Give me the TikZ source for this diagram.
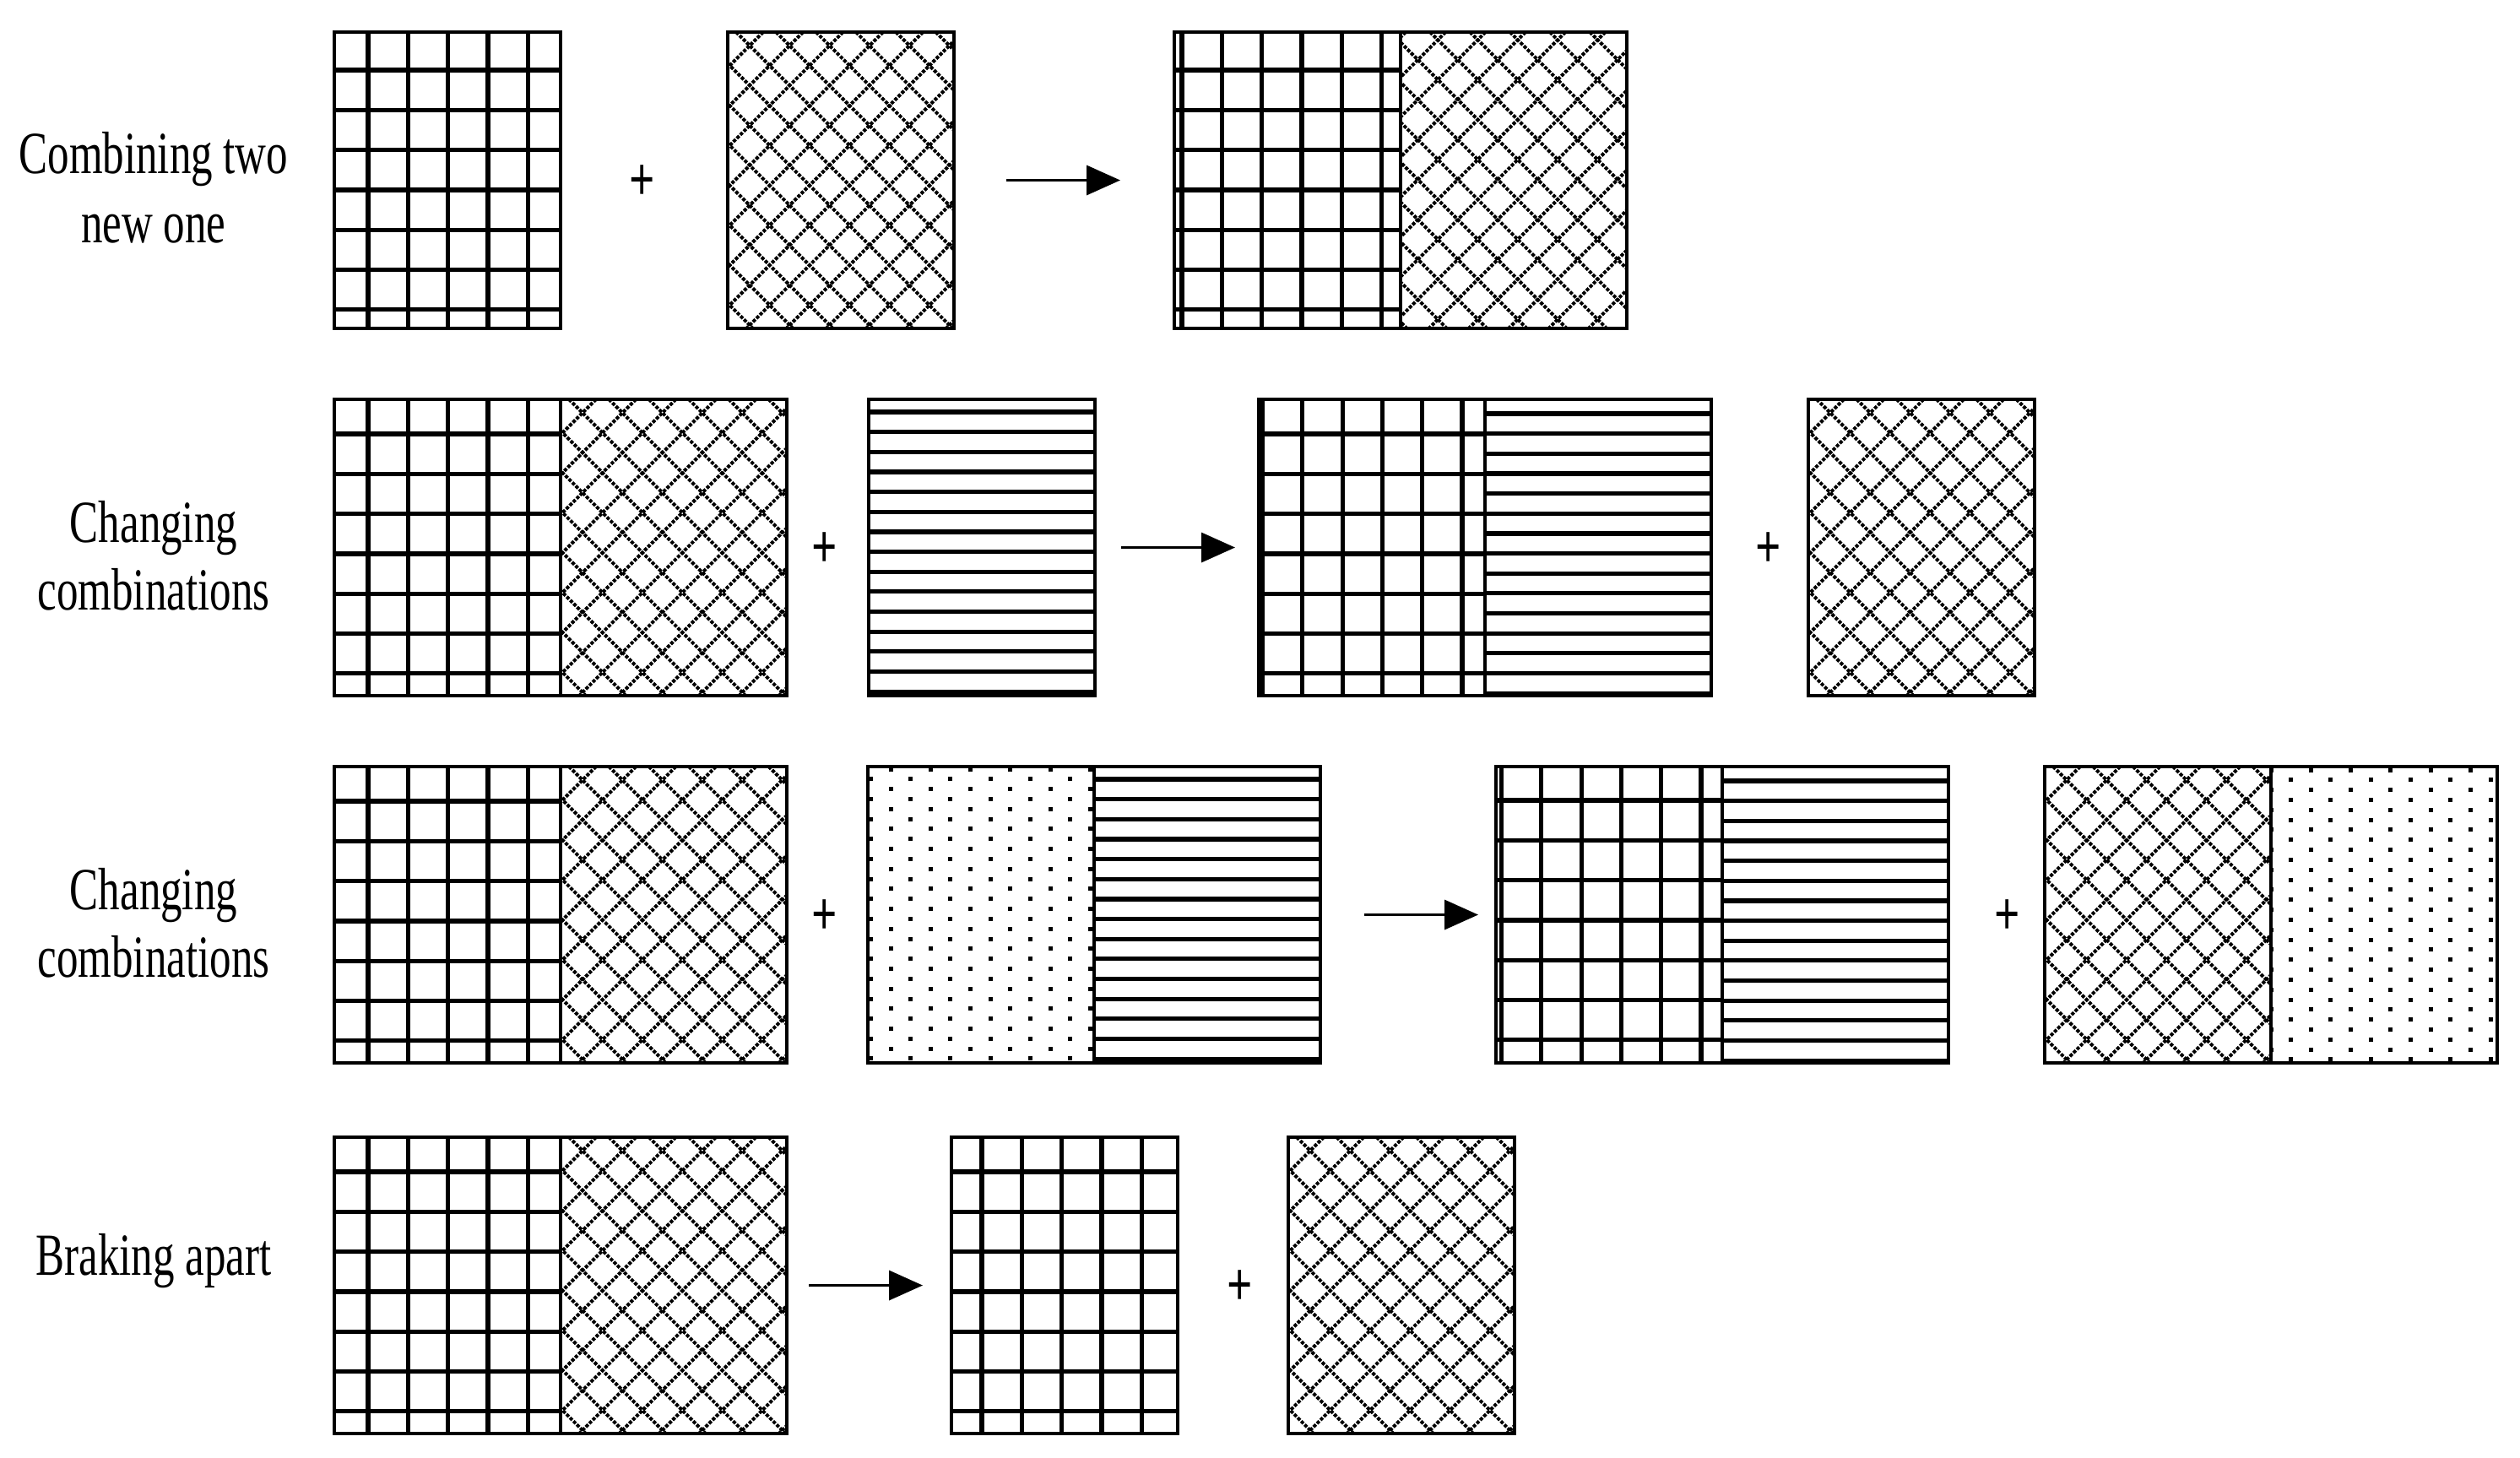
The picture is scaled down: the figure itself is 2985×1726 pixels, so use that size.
\documentclass[tikz,border=0pt]{standalone}
\usepackage{fontspec}
\usetikzlibrary{arrows.meta}
\newfontfamily\labfont[FakeStretch=0.72]{Liberation Serif}
\tikzset{
  hatchln/.style={line width=1.3pt,black},
  dialn/.style={line width=1pt,black,dash pattern=on 1pt off 0.45pt},
  boxnode/.style={draw,line width=1.1pt,inner sep=0pt,outer sep=0pt,anchor=north west,minimum height=87.75pt},
  singlebox/.style={boxnode,minimum width=67pt},
  doublebox/.style={boxnode,minimum width=134pt},
  divln/.style={line width=1.1pt},
  arr/.style={line width=0.875pt,-{Triangle[length=10pt,width=8.75pt]}},
  lab/.style={font=\labfont\fontsize{17.7}{20.5}\selectfont,anchor=base,inner sep=0pt},
  plus/.style={font=\labfont\bfseries\fontsize{18.5}{20.5}\selectfont,anchor=center}
}
% #1 L, #2 T, #3 W, #4 H, #5 pu, #6 pv
\newcommand\patgrid[6]{%
\begin{scope}
\clip (#1,#2) rectangle ++(#3,#4);
\foreach \k in {0,...,9}{
 \draw[hatchln] ({#1+#5+(\k-1)*47.3},#2) -- ++(0,#4);
 \draw[hatchln] (#1,{#2+#6+(\k-1)*47.3}) -- ++(#3,0);
}
\end{scope}}
\newcommand\patdia[6]{%
\begin{scope}
\clip (#1,#2) rectangle ++(#3,#4);
\foreach \k in {0,...,16}{
 \draw[dialn] ({#1+#5+(\k-9)*47.3},#2) -- ++(#4,#4);
 \draw[dialn] ({#1+#6+(\k-1)*47.3},#2) -- ++(-#4,#4);
}
\end{scope}}
\newcommand\patdots[6]{%
\begin{scope}
\clip (#1,#2) rectangle ++(#3,#4);
\foreach \i in {0,...,7}{\foreach \j in {0,...,15}{
 \fill ({#1+#5+(\i-1)*47.3-2.5},{#2+#6+\j*23.65-2.5}) rectangle ++(5,5);
 \fill ({#1+#5+(\i-1)*47.3+23.65-2.5},{#2+#6+\j*23.65+11.83-2.5}) rectangle ++(5,5);
}}
\end{scope}}
\newcommand\pathl[5]{%
\begin{scope}
\clip (#1,#2) rectangle ++(#3,#4);
\foreach \j in {0,...,15}{
 \draw[hatchln] (#1,{#2+#5+\j*23.65}) -- ++(#3,0);
}
\end{scope}}
\begin{document}
\begin{tikzpicture}[x=0.25pt,y=-0.25pt]
\useasboundingbox (0,0) rectangle (2985,1726);
\fill[white] (0,0) rectangle (2985,1726);

% ---------- labels ----------
\node[lab] (l1a) at (182,205) {Combining two};
\node[lab] (l1b) at (182,287) {new one};
\node[lab] (l2a) at (182,642) {Changing};
\node[lab] (l2b) at (182,722) {combinations};
\node[lab] (l3a) at (182,1077) {Changing};
\node[lab] (l3b) at (182,1157) {combinations};
\node[lab] (l4a) at (182,1510) {Braking apart};

% ---------- row 1 ----------
\patgrid{396}{38}{268}{351}{40}{45}
\node[singlebox] (b1a) at (396,38) {};
\node[plus] (p1) at (761,216.5) {+};
\patdia{862}{38}{268}{351}{10}{42}
\node[singlebox] (b1b) at (862,38) {};
\coordinate (a1s) at (1192,213.5);
\coordinate (a1e) at (1327,213.5);
\draw[arr] (a1s) -- (a1e);
\patgrid{1391}{38}{268}{351}{9}{45}
\patdia{1659}{38}{268}{351}{35}{6}
\node[doublebox] (b1c) at (1391,38) {};
\draw[divln] (b1c.north) -- (b1c.south);

% ---------- row 2 ----------
\patgrid{396}{473}{268}{351}{40}{41}
\patdia{664}{473}{268}{351}{10}{42}
\node[doublebox] (b2a) at (396,473) {};
\draw[divln] (b2a.north) -- (b2a.south);
\node[plus] (p2a) at (977,651.5) {+};
\pathl{1029}{473}{268}{351}{15}
\node[singlebox] (b2b) at (1029,473) {};
\coordinate (a2s) at (1328,648.5);
\coordinate (a2e) at (1463,648.5);
\draw[arr] (a2s) -- (a2e);
\patgrid{1491}{473}{268}{351}{4.5}{41}
\pathl{1759}{473}{268}{351}{17}
\node[doublebox] (b2c) at (1491,473) {};
\draw[divln] (b2c.north) -- (b2c.south);
\node[plus] (p2b) at (2095,651.5) {+};
\patdia{2142}{473}{268}{351}{10}{42}
\node[singlebox] (b2d) at (2142,473) {};

% ---------- row 3 ----------
\patgrid{396}{908}{268}{351}{40}{41}
\patdia{664}{908}{268}{351}{10}{42}
\node[doublebox] (b3a) at (396,908) {};
\draw[divln] (b3a.north) -- (b3a.south);
\node[plus] (p3a) at (977,1086.5) {+};
\patdots{1028}{908}{268}{351}{27}{3}
\pathl{1296}{908}{268}{351}{15}
\node[doublebox] (b3b) at (1028,908) {};
\draw[divln] (b3b.north) -- (b3b.south);
\coordinate (a3s) at (1616,1083.5);
\coordinate (a3e) at (1751,1083.5);
\draw[arr] (a3s) -- (a3e);
\patgrid{1772}{908}{268}{351}{6.5}{40}
\pathl{2040}{908}{268}{351}{17}
\node[doublebox] (b3c) at (1772,908) {};
\draw[divln] (b3c.north) -- (b3c.south);
\node[plus] (p3b) at (2378,1086.5) {+};
\patdia{2422}{908}{268}{351}{10}{42}
\patdots{2690}{908}{268}{351}{0}{4}
\node[doublebox] (b3d) at (2422,908) {};
\draw[divln] (b3d.north) -- (b3d.south);

% ---------- row 4 ----------
\patgrid{396}{1347}{268}{351}{40}{41}
\patdia{664}{1347}{268}{351}{10}{42}
\node[doublebox] (b4a) at (396,1347) {};
\draw[divln] (b4a.north) -- (b4a.south);
\coordinate (a4s) at (958,1522.5);
\coordinate (a4e) at (1093,1522.5);
\draw[arr] (a4s) -- (a4e);
\patgrid{1127}{1347}{268}{351}{36}{41}
\node[singlebox] (b4b) at (1127,1347) {};
\node[plus] (p4) at (1469,1525.5) {+};
\patdia{1526}{1347}{268}{351}{10}{42}
\node[singlebox] (b4c) at (1526,1347) {};
\end{tikzpicture}
\end{document}
